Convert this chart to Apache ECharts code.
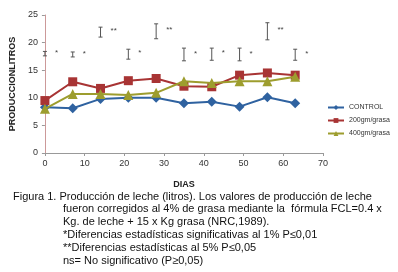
<!DOCTYPE html>
<html>
<head>
<meta charset="utf-8">
<script src="https://cdn.jsdelivr.net/npm/echarts@6/dist/echarts.min.js"></script>
<style>
  html, body { margin: 0; padding: 0; background: #fff; }
  #chart { width: 398px; height: 272px; }
</style>
</head>
<body>
<div id="chart"></div>
<script>
// dias de muestreo
var dias = [0, 7, 14, 21, 28, 35, 42, 49, 56, 63]
var control = [8.3, 8.1, 9.8, 10.0, 10.0, 9.0, 9.3, 8.4, 10.1, 9.0]
var grasa200 = [9.5, 12.9, 11.7, 13.1, 13.5, 12.1, 12.0, 14.1, 14.5, 14.1]
var grasa400 = [8.0, 10.7, 10.7, 10.5, 10.9, 13.0, 12.7, 13.0, 13.0, 13.8]

// barras de diferencia (I) y significancia
var errBajo = [17.6, 17.4, 21.0, 17.0, 20.7, 16.7, 16.8, 16.7, 20.5, 16.8]
var errAlto = [18.4, 18.3, 22.8, 18.8, 23.4, 19.0, 19.0, 19.0, 23.6, 18.8]
var signif = ['*', '*', '**', '*', '**', '*', '*', '*', '**', '*']

var nombres = ['CONTROL', '200gm/grasa', '400gm/grasa']
var pie = [
    'Figura 1. Producción de leche (litros). Los valores de producción de leche',
    'fueron corregidos al 4% de grasa mediante la  fórmula FCL=0.4 x',
    'Kg. de leche + 15 x Kg grasa (NRC,1989).',
    '*Diferencias estadísticas significativas al 1% P≤0,01',
    '**Diferencias estadísticas al 5% P≤0,05',
    'ns= No significativo (P≥0,05)'
]

var chart = echarts.init(document.getElementById('chart'))
var font = 'Liberation Sans, Arial, sans-serif'

function pares(ys) {
    return dias.map(function (d, i) { return [d, ys[i]] })
}

var errData = dias.map(function (d, i) { return [d, errBajo[i], errAlto[i], signif[i]] })

var lineas = []
var colores = ['#2f62a0', '#a83434', '#9d9d2e']
var simbolos = ['diamond', 'rect', 'triangle']
var tamanos = [10, 9, 10]
var valores = [control, grasa200, grasa400]
for (var k = 0; k < 3; k++) {
    lineas.push({
        name: nombres[k],
        type: 'line',
        data: pares(valores[k]),
        symbol: simbolos[k],
        symbolSize: tamanos[k],
        itemStyle: { color: colores[k] },
        lineStyle: { color: colores[k], width: 2 },
        z: 3 + k,
        animation: false
    })
}

chart.setOption({
    animation: false,
    textStyle: { fontFamily: font },
    grid: { left: 43, right: 75, top: 15, bottom: 119 },
    legend: {
        orient: 'vertical',
        left: 322,
        top: 99,
        itemWidth: 16,
        itemHeight: 6,
        itemGap: 6,
        textStyle: { fontSize: 7, color: '#333', fontFamily: font },
        data: nombres
    },
    xAxis: {
        type: 'value',
        min: 0,
        max: 70,
        interval: 10,
        name: 'DIAS',
        nameLocation: 'middle',
        nameGap: 27,
        nameTextStyle: { fontSize: 9, fontWeight: 'bold', color: '#222' },
        axisLine: { lineStyle: { color: '#999' } },
        axisTick: { show: true, inside: false, length: 3, lineStyle: { color: '#999' } },
        axisLabel: { fontSize: 9, color: '#333', margin: 6 },
        splitLine: { show: false }
    },
    yAxis: {
        type: 'value',
        min: 0,
        max: 25,
        interval: 5,
        name: 'PRODUCCIONLITROS',
        nameLocation: 'middle',
        nameGap: 23,
        nameTextStyle: { fontSize: 9, fontWeight: 'bold', color: '#222' },
        axisLine: { show: true, lineStyle: { color: '#c99' } },
        axisTick: { show: true, length: 3, lineStyle: { color: '#999' } },
        axisLabel: { fontSize: 9, color: '#333', margin: 7 },
        splitLine: { show: false }
    },
    series: lineas.concat([{
        type: 'custom',
        name: 'dif',
        data: errData,
        z: 2,
        renderItem: function (params, api) {
            var x = api.value(0)
            var lo = api.coord([x, api.value(1)])
            var hi = api.coord([x, api.value(2)])
            var c = 2
            var st = { stroke: '#555', lineWidth: 1 }
            return {
                type: 'group',
                children: [
                    { type: 'line', shape: { x1: lo[0], y1: lo[1], x2: hi[0], y2: hi[1] }, style: st },
                    { type: 'line', shape: { x1: lo[0] - c, y1: lo[1], x2: lo[0] + c, y2: lo[1] }, style: st },
                    { type: 'line', shape: { x1: hi[0] - c, y1: hi[1], x2: hi[0] + c, y2: hi[1] }, style: st },
                    {
                        type: 'text',
                        x: hi[0] + 10,
                        y: (lo[1] + hi[1]) / 2 - 1,
                        style: {
                            text: api.value(3),
                            fill: '#444',
                            font: '8px ' + font,
                            verticalAlign: 'middle'
                        }
                    }
                ]
            }
        }
    }]),
    graphic: pie.map(function (t, i) {
        return {
            type: 'text',
            left: i === 0 ? 13 : 63,
            top: 191 + i * 12.8,
            style: { text: t, font: '11px ' + font, fill: '#111' }
        }
    })
})
</script>
</body>
</html>
